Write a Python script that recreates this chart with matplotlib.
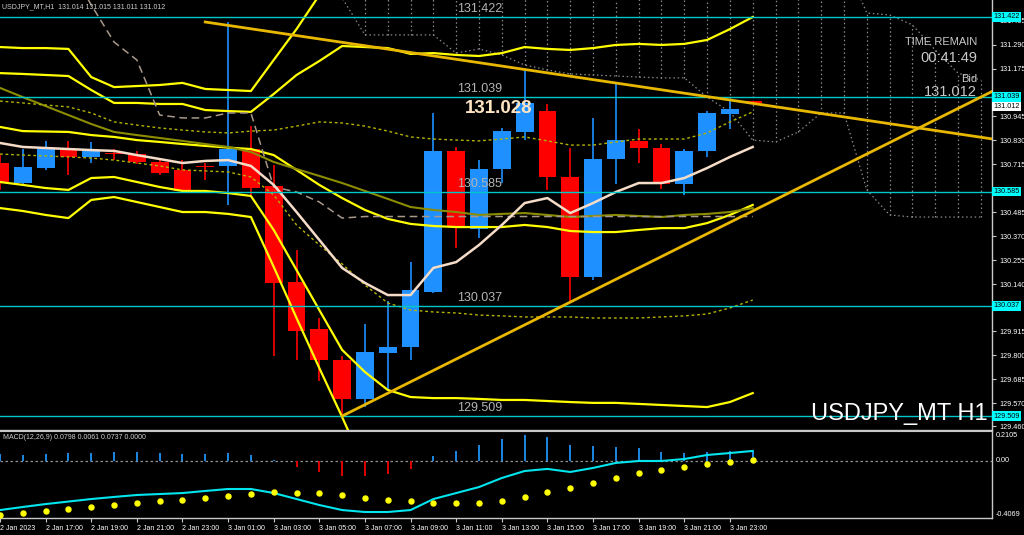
import numpy as np
import matplotlib
matplotlib.use("Agg")
import matplotlib.pyplot as plt

plt.rcParams['font.family'] = ['Liberation Sans', 'DejaVu Sans']

# -----------------------
# Candles USDJPY_MT H1, 2 Jan 15:00 .. 4 Jan 00:00
# -----------------------
opens  = [130.722, 130.626, 130.698, 130.789, 130.751, 130.770, 130.765, 130.727, 130.689, 130.708,
          130.708, 130.789, 130.612, 130.152, 129.926, 129.778, 129.591, 129.811, 129.840, 130.104,
          130.780, 130.406, 130.693, 130.871, 130.971, 130.655, 130.176, 130.741, 130.828, 130.794,
          130.621, 130.780, 130.957, 131.014]
highs  = [130.760, 130.789, 130.828, 130.828, 130.823, 130.789, 130.780, 130.741, 130.736, 130.722,
          131.400, 130.899, 130.713, 130.305, 129.979, 129.797, 129.950, 130.061, 130.247, 130.962,
          130.799, 130.736, 130.890, 131.168, 131.005, 130.794, 130.938, 131.106, 130.885, 130.813,
          130.789, 130.971, 131.024, 131.015]
lows   = [130.593, 130.617, 130.689, 130.665, 130.722, 130.736, 130.717, 130.665, 130.583, 130.641,
          130.521, 130.569, 129.797, 129.778, 129.677, 129.509, 129.552, 129.634, 129.778, 130.099,
          130.315, 130.363, 130.626, 130.832, 130.593, 130.050, 130.163, 130.621, 130.722, 130.598,
          130.569, 130.751, 130.885, 131.011]
closes = [130.631, 130.703, 130.789, 130.751, 130.780, 130.765, 130.727, 130.674, 130.588, 130.703,
          130.789, 130.602, 130.147, 129.917, 129.778, 129.591, 129.816, 129.840, 130.113, 130.780,
          130.415, 130.693, 130.875, 131.010, 130.655, 130.176, 130.741, 130.832, 130.794, 130.621,
          130.780, 130.962, 130.981, 131.012]

time_labels = ["2 Jan 2023", "2 Jan 17:00", "2 Jan 19:00", "2 Jan 21:00", "2 Jan 23:00",
               "3 Jan 01:00", "3 Jan 03:00", "3 Jan 05:00", "3 Jan 07:00", "3 Jan 09:00",
               "3 Jan 11:00", "3 Jan 13:00", "3 Jan 15:00", "3 Jan 17:00", "3 Jan 19:00",
               "3 Jan 21:00", "3 Jan 23:00"]

# -----------------------
# Indicators (one value per bar)
# -----------------------
band_up2 = [131.278, 131.273, 131.273, 131.269, 131.134, 131.086, 131.091, 131.096, 131.106, 131.077,
            131.072, 131.067, 131.216, 131.364, 131.527]
band_up = [131.153, 131.149, 131.144, 131.139, 131.072, 131.010, 131.010, 131.005, 131.005, 130.976,
           130.971, 130.967, 131.053, 131.144, 131.211, 131.283, 131.278, 131.273, 131.245, 131.249,
           131.240, 131.235, 131.249, 131.278, 131.269, 131.264, 131.273, 131.288, 131.293, 131.288,
           131.293, 131.312, 131.364, 131.422]
band_mid = [130.895, 130.875, 130.873, 130.871, 130.856, 130.847, 130.832, 130.823, 130.813, 130.804,
            130.796, 130.789, 130.760, 130.689, 130.617, 130.554, 130.497, 130.454, 130.430, 130.420,
            130.415, 130.415, 130.415, 130.425, 130.415, 130.396, 130.391, 130.391, 130.401, 130.410,
            130.410, 130.434, 130.473, 130.521]
band_lo = [130.631, 130.617, 130.602, 130.593, 130.650, 130.655, 130.631, 130.607, 130.588, 130.588,
           130.578, 130.564, 130.401, 130.209, 130.017, 129.826, 129.720, 129.634, 129.600, 129.595,
           129.595, 129.591, 129.586, 129.586, 129.581, 129.576, 129.572, 129.572, 129.567, 129.562,
           129.557, 129.552, 129.576, 129.619]
band_lo2 = [130.506, 130.492, 130.473, 130.458, 130.545, 130.559, 130.535, 130.511, 130.487, 130.487,
            130.478, 130.463, 130.224, 129.979, 129.739, 129.504, 129.260]
ma_slow = [131.082, 131.038, 130.995, 130.952, 130.909, 130.871, 130.856, 130.842, 130.828, 130.813,
           130.799, 130.775, 130.727, 130.693, 130.660, 130.626, 130.588, 130.550, 130.511, 130.497,
           130.487, 130.473, 130.478, 130.482, 130.473, 130.463, 130.468, 130.473, 130.468, 130.463,
           130.473, 130.478, 130.487, 130.506]
env_up = [131.019, 131.010, 131.000, 130.991, 130.962, 130.919, 130.904, 130.890, 130.880, 130.871,
          130.866, 130.875, 130.880, 130.899, 130.919, 130.914, 130.899, 130.875, 130.847, 130.837,
          130.832, 130.828, 130.837, 130.847, 130.828, 130.808, 130.808, 130.823, 130.837, 130.837,
          130.837, 130.866, 130.919, 130.967]
env_lo = [130.765, 130.760, 130.756, 130.751, 130.746, 130.736, 130.722, 130.708, 130.689, 130.684,
          130.679, 130.655, 130.569, 130.425, 130.329, 130.238, 130.137, 130.051, 130.017, 130.008,
          130.003, 129.993, 129.989, 129.984, 129.984, 129.984, 129.979, 129.979, 129.979, 129.984,
          129.989, 129.998, 130.027, 130.065]
ma_fast = [130.818, 130.799, 130.794, 130.789, 130.784, 130.780, 130.760, 130.741, 130.722, 130.732,
           130.736, 130.708, 130.617, 130.487, 130.353, 130.219, 130.147, 130.089, 130.089, 130.219,
           130.247, 130.329, 130.425, 130.530, 130.554, 130.482, 130.530, 130.583, 130.626, 130.626,
           130.650, 130.698, 130.751, 130.799]
kijun_start = 3
kijun = [131.670, 131.480, 131.302, 131.216, 130.952, 130.938, 130.938, 130.962, 130.962, 130.607,
         130.583, 130.535, 130.458] + [130.4655] * 18

# ichimoku cloud, bars 15..43 (shifted forward)
cloud_start = 15
cloud_lo = [131.513, 131.336, 131.336, 131.336, 131.336, 131.249, 131.269, 131.240, 131.192, 131.168,
            131.149, 131.144, 131.139, 131.134, 131.130, 131.130, 131.038, 130.967, 130.832, 130.823,
            130.871, 130.962, 130.962, 130.593, 130.473, 130.463, 130.463, 130.463, 130.463]
cloud_hi = [131.700] * 23 + [131.441, 131.432, 131.384, 131.264, 131.153, 131.120]

levels = [131.422, 131.039, 130.585, 130.037, 129.509]
bid = 131.012
day_label = 131.028

# trendlines: (bar, price) anchors, drawn as rays
trend_down = [(9, 131.398), (33, 131.008)]
trend_up = [(15, 129.509), (33, 130.492)]

price_ticks = [131.405, 131.290, 131.175, 131.060, 130.945, 130.830, 130.715, 130.600, 130.485,
               130.370, 130.255, 130.140, 130.025, 129.915, 129.800, 129.685, 129.570, 129.460]
hidden_ticks = [131.060, 130.600, 130.025]   # covered by the level badges

# MACD(12,26,9)
macd_hist = [0.050, 0.043, 0.050, 0.057, 0.060, 0.065, 0.065, 0.060, 0.050, 0.050,
             0.057, 0.043, 0.004, -0.041, -0.077, -0.108, -0.108, -0.093, -0.057, 0.036,
             0.072, 0.115, 0.158, 0.187, 0.174, 0.115, 0.108, 0.103, 0.093, 0.067,
             0.060, 0.067, 0.074, 0.074]
macd_line = [-0.352, -0.330, -0.309, -0.291, -0.273, -0.258, -0.244, -0.237, -0.230, -0.215,
             -0.201, -0.201, -0.230, -0.273, -0.316, -0.352, -0.366, -0.366, -0.352, -0.273,
             -0.230, -0.187, -0.122, -0.072, -0.057, -0.079, -0.050, -0.014, 0.000, 0.000,
             0.014, 0.043, 0.057, 0.072]
macd_dots = [-0.388, -0.373, -0.359, -0.345, -0.330, -0.316, -0.302, -0.287, -0.280, -0.266,
             -0.251, -0.237, -0.223, -0.230, -0.230, -0.244, -0.266, -0.280, -0.287, -0.302,
             -0.302, -0.302, -0.287, -0.258, -0.223, -0.194, -0.158, -0.122, -0.086, -0.065,
             -0.043, -0.022, -0.007, 0.007]

# -----------------------
# Figure / axes
# -----------------------
W, H = 1024, 535
fig = plt.figure(figsize=(W / 100, H / 100), dpi=100, facecolor='black')

def px_axes(x0, y0, x1, y1):
    return fig.add_axes([x0 / W, 1 - y1 / H, (x1 - x0) / W, (y1 - y0) / H])

ax = px_axes(0, 0, 992, 430)
mx = px_axes(0, 431, 992, 518)
XMAX = 992 / 22.81

for a in (ax, mx):
    a.set_facecolor('black')
    a.set_xlim(0, XMAX)
    for s in ('left', 'top'):
        a.spines[s].set_visible(False)
    for s in ('right', 'bottom'):
        a.spines[s].set_color('#C8C8C8')
        a.spines[s].set_linewidth(1)
mx.spines['top'].set_visible(True)
mx.spines['top'].set_color('#C8C8C8')

ax.set_ylim(129.442, 131.5035)
mx.set_ylim(-0.409, 0.215)

n = len(opens)
idx = np.arange(n)

# cloud (dotted hatch)
cidx = np.arange(cloud_start, cloud_start + len(cloud_lo))
dot = (0, (1.2, 2.2))
ax.vlines(cidx, cloud_lo, cloud_hi, colors='#8A8A8A', linestyles=dot, lw=0.9, zorder=1)
ax.plot(cidx, cloud_lo, color='#8A8A8A', ls=dot, lw=0.9, zorder=1)
ax.plot(cidx, cloud_hi, color='#8A8A8A', ls=dot, lw=0.9, zorder=1)

# candles
o = np.array(opens); c = np.array(closes)
up = c >= o
cols = np.where(up, '#1E90FF', '#FF0000')
ax.vlines(idx, lows, highs, colors=cols, lw=1.2, zorder=2)
body_lo = np.minimum(o, c)
body_h = np.maximum(np.abs(c - o), 0.005)
ax.bar(idx, body_h, bottom=body_lo, width=0.78, color=cols, zorder=2)

# indicator lines
ax.plot(np.arange(len(band_up2)), band_up2, color='#FFFF00', lw=1.6, zorder=3)
ax.plot(idx, band_up, color='#FFFF00', lw=1.6, zorder=3)
ax.plot(idx, band_mid, color='#FFFF00', lw=1.6, zorder=3)
ax.plot(idx, band_lo, color='#FFFF00', lw=1.6, zorder=3)
ax.plot(np.arange(len(band_lo2)), band_lo2, color='#FFFF00', lw=1.6, zorder=3)
ax.plot(idx, ma_slow, color='#8C8C00', lw=1.5, zorder=3)
ax.plot(idx, env_up, color='#B4B400', lw=1.0, ls=(0, (2, 2)), zorder=3)
ax.plot(idx, env_lo, color='#B4B400', lw=1.0, ls=(0, (2, 2)), zorder=3)
ax.plot(np.arange(kijun_start, kijun_start + len(kijun)), kijun,
        color='#A8988A', lw=1.1, ls=(0, (5, 3)), zorder=3)
ax.plot(idx, ma_fast, color='#F5DCC8', lw=1.8, zorder=4)

# horizontal levels
for lv in levels:
    ax.axhline(lv, color='#00C8C8', lw=1, zorder=4)
    ax.annotate(f"{lv:.3f}", (20.03, lv), xytext=(0, 1.5), textcoords='offset points',
                color='#B4B4B4', fontsize=9, ha='left', va='bottom', zorder=5)

# trendlines
for (x1, p1), (x2, p2) in (trend_down, trend_up):
    slope = (p2 - p1) / (x2 - x1)
    xs = np.array([x1, XMAX])
    ax.plot(xs, p1 + slope * (xs - x1), color='#E8B800', lw=2, zorder=4)

ax.annotate(f"{day_label:.3f}", (21.88, day_label), xytext=(0, -7), textcoords='offset points',
            color='#FFE4C4', fontsize=13.5, fontweight='bold', ha='center', va='center', zorder=6)

# price axis on the right
ax.set_xticks([])
ax.yaxis.tick_right()
ax.set_yticks(price_ticks)
ax.set_yticklabels(["" if v in hidden_ticks else f"{v:.3f}" for v in price_ticks])
ax.tick_params(axis='y', length=3, color='#C8C8C8', labelcolor='white', labelsize=5.2, pad=2)

ytr = ax.get_yaxis_transform()
for lv in levels:
    ax.text(1.0015, lv, f"{lv:.3f}", transform=ytr, fontsize=5.2, color='black', ha='left',
            va='center', clip_on=False, zorder=10,
            bbox=dict(boxstyle='square,pad=0.18', fc='#00FFFF', ec='none'))
ax.text(1.0015, bid - 0.018, f"{bid:.3f}", transform=ytr, fontsize=5.2, color='black', ha='left',
        va='center', clip_on=False, zorder=9,
        bbox=dict(boxstyle='square,pad=0.18', fc='white', ec='none'))

# -----------------------
# MACD panel
# -----------------------
hist = np.array(macd_hist)
mx.vlines(idx, 0, hist, colors=np.where(hist >= 0, '#1E88E5', '#E00000'), lw=1.4, zorder=2)
mx.axhline(0, color='#909090', lw=0.9, ls=(0, (2, 2)), zorder=1)
mx.plot(idx, macd_line, color='#00E5EE', lw=1.5, zorder=3)
mx.plot(idx, macd_dots, ls='none', marker='o', ms=3.6, color='#FFFF00', zorder=4)

mx.set_yticks([])
mtr = mx.get_yaxis_transform()
mx.text(1.004, 0.2105, "0.2105", transform=mtr, fontsize=5.2, color='white', va='top', clip_on=False)
mx.text(1.004, 0.0, "0.00", transform=mtr, fontsize=5.2, color='white', va='center', clip_on=False)
mx.text(1.004, -0.4069, "-0.4069", transform=mtr, fontsize=5.2, color='white', va='bottom', clip_on=False)
mx.text(0.003, 0.97, "MACD(12,26,9) 0.0798 0.0061 0.0737 0.0000", transform=mx.transAxes,
        fontsize=5, color='#D0D0D0', va='top', ha='left')

mx.set_xticks(np.arange(0, 2 * len(time_labels), 2))
mx.set_xticklabels(time_labels)
for lab in mx.get_xticklabels():
    lab.set_ha('left')
mx.tick_params(axis='x', length=3, color='#C8C8C8', labelcolor='white', labelsize=5, pad=2)

# -----------------------
# Overlay texts
# -----------------------
def ftext(x, y, s, **kw):
    fig.text(x / W, 1 - y / H, s, **kw)

ftext(2, 7, "USDJPY_MT,H1  131.014 131.015 131.011 131.012", fontsize=5, color='#D0D0D0', va='center')
ftext(977, 42, "TIME REMAIN", fontsize=8, color='#C8C8C8', ha='right', va='center')
ftext(977, 57.5, "00:41:49", fontsize=10.5, color='#C8C8C8', ha='right', va='center')
ftext(977, 79, "Bid", fontsize=8, color='#C8C8C8', ha='right', va='center')
ftext(977, 92, "131.012", fontsize=10.5, color='#C8C8C8', ha='right', va='center')
ftext(988, 414, "USDJPY_MT H1", fontsize=17, color='white', ha='right', va='center', zorder=10)

fig.savefig("out.png", dpi=100, facecolor='black')
